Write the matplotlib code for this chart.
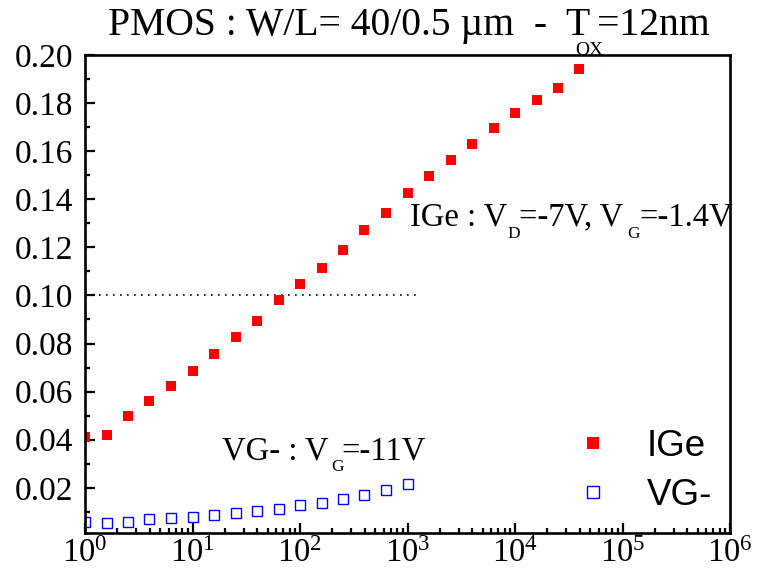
import numpy as np
import matplotlib
matplotlib.use("Agg")
import matplotlib.pyplot as plt
from matplotlib.ticker import MultipleLocator, LogLocator, NullFormatter, FixedLocator

plt.rcParams['font.family'] = ['Liberation Serif', 'DejaVu Serif']
plt.rcParams['mathtext.fontset'] = 'custom'
plt.rcParams['mathtext.rm'] = 'Liberation Serif'
plt.rcParams['mathtext.it'] = 'Liberation Serif:italic'
plt.rcParams['mathtext.bf'] = 'Liberation Serif:bold'

# ---- data ----
ige_x = [1.0, 1.585, 2.512, 3.981, 6.31, 10.0, 15.85, 25.12, 39.81, 63.1,
         100.0, 158.5, 251.2, 398.1, 631.0, 1000.0, 1585.0, 2512.0, 3981.0, 6310.0,
         10000.0, 15850.0, 25120.0, 39810.0]
ige_y = [0.0410, 0.0421, 0.0498, 0.0560, 0.0622, 0.0686, 0.0755, 0.0826, 0.0893, 0.0979,
         0.1048, 0.1113, 0.1189, 0.1274, 0.1343, 0.1427, 0.1498, 0.1563, 0.1629, 0.1697,
         0.1759, 0.1813, 0.1864, 0.1942]
vg_x = [1.0, 1.585, 2.512, 3.981, 6.31, 10.0, 15.85, 25.12, 39.81, 63.1,
        100.0, 158.5, 251.2, 398.1, 631.0, 1000.0]
vg_y = [0.0059, 0.0055, 0.0059, 0.0071, 0.0074, 0.0078, 0.0086, 0.0096, 0.0103, 0.0113,
        0.0129, 0.0136, 0.0154, 0.0171, 0.0192, 0.0217]
ref_x = [1.0, 1250.0]
ref_y = [0.10, 0.10]
labels = ['IGe', 'VG-']
x_ticks = [1e0, 1e1, 1e2, 1e3, 1e4, 1e5, 1e6]
x_ticklabels = [r'$10^{0}$', r'$10^{1}$', r'$10^{2}$', r'$10^{3}$',
                r'$10^{4}$', r'$10^{5}$', r'$10^{6}$']
y_ticks = [0.02, 0.04, 0.06, 0.08, 0.10, 0.12, 0.14, 0.16, 0.18, 0.20]
y_ticklabels = ['0.02', '0.04', '0.06', '0.08', '0.10', '0.12', '0.14', '0.16',
                '0.18', '0.20']

W, H = 757, 571
fig = plt.figure(figsize=(W / 100, H / 100), dpi=100)
ax = fig.add_axes([85 / W, (H - 533) / H, (730 - 85) / W, (533 - 55) / H])

ax.plot(ref_x, ref_y, color='black', lw=1.2, linestyle=(0, (1, 3.2)))
ax.plot(ige_x, ige_y, linestyle='none', marker='s', ms=7.4, mfc='#ff0000',
        mec='#ff0000', mew=0, label=labels[0])
ax.plot(vg_x, vg_y, linestyle='none', marker='s', ms=7.6, mfc='none',
        mec='#0000ff', mew=1.0, label=labels[1])

ax.set_xscale('log')
ax.set_xlim(1, 1e6)
ax.set_ylim(0.0012, 0.20)
ax.set_yticks(y_ticks)
ax.set_yticklabels(y_ticklabels)
ax.yaxis.set_minor_locator(FixedLocator(np.arange(0.01, 0.2, 0.02)))
ax.set_xticks(x_ticks)
ax.set_xticklabels(x_ticklabels)
ax.xaxis.set_minor_locator(LogLocator(base=10, subs=np.arange(2, 10), numticks=20))
ax.xaxis.set_minor_formatter(NullFormatter())

for s in ax.spines.values():
    s.set_linewidth(1.9)
ax.tick_params(which='both', direction='in', top=False, right=False, width=1.6)
ax.tick_params(which='major', length=7.5)
ax.tick_params(which='minor', length=3.8)
ax.tick_params(axis='y', which='major', labelsize=24, pad=8.5)
ax.tick_params(axis='x', which='major', labelsize=23.5, pad=4)

leg = ax.legend(loc='center left', bbox_to_anchor=(574.6 / W, 1 - 471 / H),
                bbox_transform=fig.transFigure, frameon=False, borderpad=0,
                borderaxespad=0, handlelength=1.0, handletextpad=0.97,
                labelspacing=0.36, markerscale=1.22,
                prop={'family': 'Liberation Sans', 'size': 26.5})


def put(x_px, y_px, s, size):
    fig.text(x_px / W, 1 - y_px / H, s, fontsize=size,
             family='Liberation Serif', ha='left', va='baseline')


# title pieces (x, baseline y in pixels)
put(108, 35, "PMOS : W/L= 40/0.5 \u00b5m  -  T", 28.5)
put(575, 55, "OX", 14)
put(597, 35, "=12nm", 28.5)

# IGe annotation
put(410, 225, "IGe : V", 23.5)
put(507, 237.5, "D", 12.5)
put(519, 225, "=-7V, V", 23.5)
put(627, 237.5, "G", 12.5)
put(639, 225, "=-1.4V", 23.5)

# VG- annotation
put(222, 459, "VG- : V", 23.5)
put(331, 471, "G", 12.5)
put(341, 459, "=-11V", 23.5)

fig.savefig('out.png', dpi=100)
